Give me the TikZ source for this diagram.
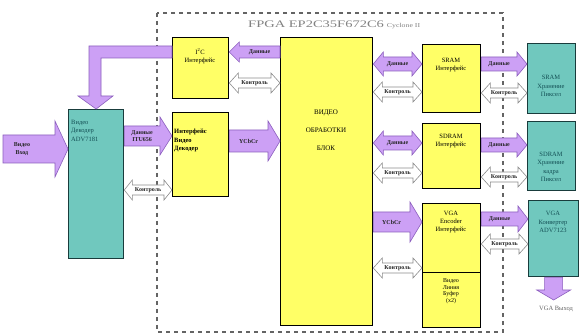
\documentclass[tikz,border=0pt]{standalone}
\usepackage{fontspec}
\usepackage{graphicx}
\setmainfont{Liberation Serif}
\usetikzlibrary{calc}
\definecolor{yel}{RGB}{255,255,102}
\definecolor{tealf}{RGB}{112,200,190}
\definecolor{tealb}{RGB}{25,60,60}
\definecolor{tealt}{RGB}{20,80,85}
\definecolor{purf}{RGB}{204,160,245}
\definecolor{purb}{RGB}{140,95,190}
\definecolor{wab}{RGB}{140,140,140}
\definecolor{dashc}{RGB}{100,100,100}
\definecolor{ttlc}{RGB}{130,130,130}
\tikzset{
  ybox/.style={draw=black, line width=1.3pt, fill=yel},
  tbox/.style={draw=tealb, line width=1.3pt, fill=tealf},
  parr/.style={draw=purb, fill=purf, line width=0.6pt},
  warr/.style={draw=wab, fill=white, line width=0.6pt},
  lbl/.style={font=\fontsize{6}{7.5}\selectfont\bfseries, inner sep=0pt, align=center, text=black!85},
  tlbl/.style={font=\fontsize{6.5}{8.5}\selectfont, inner sep=0pt, align=center, text=tealt},
  ylbl/.style={font=\fontsize{6.5}{8}\selectfont, inner sep=0pt, align=center, text=black},
  fpga/.style={draw=dashc, line width=2.4pt, dash pattern=on 4pt off 4pt},
}
% box by corners: name, style, x1, y1, x2, y2
\newcommand{\boxat}[6]{\node[#2, anchor=north west, minimum width=#5pt-#3pt, minimum height=#6pt-#4pt, inner sep=0pt] (#1) at (#3,#4) {};}
% single-headed block arrow: style, start, end, body half, head half, head length, label name, label text
\newcommand{\sarr}[8]{%
  \coordinate (S) at (#2); \coordinate (E) at (#3);
  \path ($(E)!#6pt!(S)$) coordinate (H);
  \filldraw[#1] ($(S)!#4pt!90:(E)$) -- ($(H)!#4pt!90:(E)$) -- ($(H)!#5pt!90:(E)$) -- (E)
     -- ($(H)!#5pt!-90:(E)$) -- ($(H)!#4pt!-90:(E)$) -- ($(S)!#4pt!-90:(E)$) -- cycle;
  \node[lbl] (#7) at ($(S)!0.5!(H)$) {#8};}
% double-headed block arrow
\newcommand{\darr}[8]{%
  \coordinate (S) at (#2); \coordinate (E) at (#3);
  \path ($(E)!#6pt!(S)$) coordinate (H) ($(S)!#6pt!(E)$) coordinate (G);
  \filldraw[#1] (S) -- ($(G)!#5pt!-90:(S)$) -- ($(G)!#4pt!-90:(S)$) -- ($(H)!#4pt!90:(E)$)
     -- ($(H)!#5pt!90:(E)$) -- (E) -- ($(H)!#5pt!-90:(E)$) -- ($(H)!#4pt!-90:(E)$)
     -- ($(G)!#4pt!90:(S)$) -- ($(G)!#5pt!90:(S)$) -- cycle;
  \node[lbl] (#7) at ($(S)!0.5!(E)$) {#8};}
\begin{document}
\begin{tikzpicture}[x=1pt,y=-1pt]
\useasboundingbox (0,0) rectangle (581,336);
\fill[white] (0,0) rectangle (581,336);
% FPGA frame
\draw[fpga] (157,13) rectangle (503,332);
\node[font=\fontsize{10}{10}\selectfont, text=ttlc, inner sep=0pt, anchor=west] (ttl) at (248,25)
  {\scalebox{1.45}[1]{FPGA EP2C35F672C6}\hspace{3pt}\fontsize{6}{6}\selectfont\scalebox{1.3}[1]{Cyclone II}};
% boxes
\boxat{dec}{tbox}{68}{109}{123}{258}
\boxat{i2c}{ybox}{172}{37}{228}{98}
\boxat{vif}{ybox}{172}{112}{228}{196}
\boxat{proc}{ybox}{280}{37}{372}{325}
\boxat{sramif}{ybox}{422}{44}{480}{112}
\boxat{sdramif}{ybox}{422}{123}{480}{188}
\boxat{vgaif}{ybox}{422}{203}{480}{272}
\boxat{lbuf}{ybox}{422}{272}{480}{327}
\boxat{sram}{tbox}{527}{43}{575}{113}
\boxat{sdram}{tbox}{527}{121}{575}{190}
\boxat{vgac}{tbox}{528}{200}{578}{276}
% box texts
\node[tlbl, align=left, anchor=north west] (tdec) at (71,120) {Видео\\Декодер\\ADV7181};
\node[ylbl] (ti2c) at (200,56) {I\textsuperscript{2}C\\Интерфейс};
\node[ylbl, align=left, anchor=north west, font=\fontsize{6.5}{8.5}\selectfont\bfseries] (tvif) at (174,129) {Интерфейс\\Видео\\Декодер};
\node[ylbl, font=\fontsize{7}{18}\selectfont] (tproc) at (326,130) {ВИДЕО\\ОБРАБОТКИ\\БЛОК};
\node[ylbl] (tsramif) at (451,65) {SRAM\\Интерфейс};
\node[ylbl] (tsdramif) at (451,141) {SDRAM\\Интерфейс};
\node[ylbl] (tvgaif) at (451,222) {VGA\\Encoder\\Интерфейс};
\node[ylbl, font=\fontsize{6}{6.5}\selectfont] (tlbuf) at (451,291) {Видео\\Линия\\Буфер\\(x2)};
\node[tlbl] (tsram) at (551,86) {SRAM\\Хранение\\Пиксел};
\node[tlbl] (tsdram) at (551,167) {SDRAM\\Хранение\\кадра\\Пиксел};
\node[tlbl] (tvgac) at (553,222) {VGA\\Конвертер\\ADV7123};
% I2C to decoder L-shaped arrow
\filldraw[parr] (i2c.west |- 0,46) -- (89,46) -- (89,96) -- (78,96) -- (dec.north) -- (113,96) -- (101,96) -- (101,58) -- (i2c.west |- 0,58) -- cycle;
% arrows
\sarr{parr}{3,149}{dec.west |- 0,149}{14}{28}{13}{lin}{\hspace{-14pt}Видео\\\hspace{-14pt}Вход}
\sarr{parr}{dec.east |- 0,136}{vif.west |- 0,136}{10}{19}{12}{litu}{Данные\\ITU656}
\darr{warr}{dec.east |- 0,190}{vif.west |- 0,190}{5}{10}{8}{lc1}{Контроль}
\sarr{parr}{proc.west |- 0,52}{i2c.east |- 0,52}{6}{10}{10}{li2d}{Данные}
\darr{warr}{i2c.east |- 0,83}{proc.west |- 0,83}{5}{10}{9}{lc2}{Контроль}
\sarr{parr}{vif.east |- 0,141}{proc.west |- 0,141}{11}{20}{12}{ly1}{YCbCr}
\darr{parr}{proc.east |- 0,64}{sramif.west |- 0,64}{7}{12}{10}{lsd}{Данные}
\darr{warr}{proc.east |- 0,92}{sramif.west |- 0,92}{5}{10}{9}{lsc}{Контроль}
\sarr{parr}{sramif.east |- 0,64}{sram.west |- 0,64}{7}{12}{10}{lsod}{Данные}
\darr{warr}{sramif.east |- 0,93}{sram.west |- 0,93}{5}{10}{9}{lsoc}{Контроль}
\darr{parr}{proc.east |- 0,143}{sdramif.west |- 0,143}{7}{12}{10}{lsdd}{Данные}
\darr{warr}{proc.east |- 0,173}{sdramif.west |- 0,173}{5}{10}{9}{lsdc}{Контроль}
\sarr{parr}{sdramif.east |- 0,145}{sdram.west |- 0,145}{7}{12}{10}{lsdod}{Данные}
\darr{warr}{sdramif.east |- 0,177}{sdram.west |- 0,177}{5}{10}{9}{lsdoc}{Контроль}
\sarr{parr}{proc.east |- 0,222}{vgaif.west |- 0,222}{10}{20}{12}{ly2}{YCbCr}
\darr{warr}{proc.east |- 0,268}{vgaif.west |- 0,268}{5}{10}{9}{lvc}{Контроль}
\sarr{parr}{vgaif.east |- 0,219}{vgac.west |- 0,219}{7}{13}{10}{lvod}{Данные}
\darr{warr}{vgaif.east |- 0,244}{vgac.west |- 0,244}{5}{10}{9}{lvoc}{Контроль}
\sarr{parr}{vgac.south}{vgac.south |- 0,300}{9}{17}{10}{lvout}{}
\node[lbl, text=dashc, font=\fontsize{6.5}{7}\selectfont] (tvout) at (556,309) {VGA Выход};
\end{tikzpicture}
\end{document}
